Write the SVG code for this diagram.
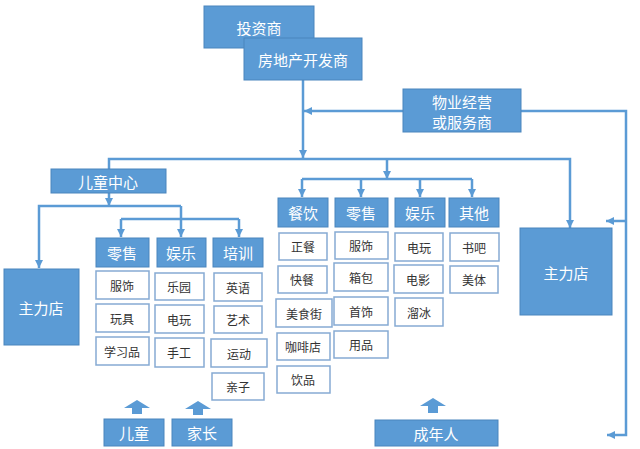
<svg xmlns="http://www.w3.org/2000/svg" width="640" height="449" viewBox="0 0 640 449">
<style>
.b{fill:#5b9bd5;stroke:#4a85bd;stroke-width:1}
.w{fill:#fff;stroke:#86aad3;stroke-width:1.5}
.t{font-family:"Noto Sans CJK SC","Noto Sans",sans-serif;fill:#fff;text-anchor:middle;dominant-baseline:central}
.s{font-family:"Noto Sans CJK SC","Noto Sans",sans-serif;fill:#333;font-size:12px;text-anchor:middle;dominant-baseline:central}
.c{fill:none;stroke:#5b9bd5;stroke-width:2.5}
.ba{fill:#5b9bd5}
</style>
<defs>
<marker id="a" markerUnits="userSpaceOnUse" markerWidth="10" markerHeight="10" viewBox="0 0 10 10" refX="9" refY="5" orient="auto">
<path d="M1,1 L9,5 L1,9 Z" fill="#5b9bd5"/>
</marker>
</defs>
<rect width="640" height="449" fill="#fff"/>
<g id="connectors">
<path class="c" d="M303 80 V158" marker-end="url(#a)"/>
<path class="c" d="M109 169 V159 H570 V228" marker-end="url(#a)"/>
<path class="c" d="M403 111 H304" marker-end="url(#a)"/>
<path class="c" d="M521 111 H626 V435 H607" marker-end="url(#a)"/>
<path class="c" d="M626 221 H606" marker-end="url(#a)"/>
<path class="c" d="M109 193 V206" marker-end="url(#a)"/>
<path class="c" d="M181 206 H39 V268" marker-end="url(#a)"/>
<path class="c" d="M181 206 V237" marker-end="url(#a)"/>
<path class="c" d="M121 219 H239"/>
<path class="c" d="M121 219 V237" marker-end="url(#a)"/>
<path class="c" d="M239 219 V237" marker-end="url(#a)"/>
<path class="c" d="M387 159 V179" marker-end="url(#a)"/>
<path class="c" d="M302 179 H472"/>
<path class="c" d="M302 179 V197" marker-end="url(#a)"/>
<path class="c" d="M361 179 V197" marker-end="url(#a)"/>
<path class="c" d="M420 179 V197" marker-end="url(#a)"/>
<path class="c" d="M472 179 V197" marker-end="url(#a)"/>
<polygon class="ba" points="137,400 150,408 142,408 142,414 132,414 132,408 124,408"/>
<polygon class="ba" points="198,401 211,409 203,409 203,415 193,415 193,409 185,409"/>
<polygon class="ba" points="433,398 446,406 438,406 438,413 428,413 428,406 420,406"/>
</g>
<g id="investor"><rect class="b" x="204" y="6" width="110" height="42"/><text class="t" x="259" y="27" font-size="15">投资商</text></g>
<g id="developer"><rect class="b" x="244" y="38" width="118" height="42"/><text class="t" x="303" y="59" font-size="15">房地产开发商</text></g>
<g id="operator"><rect class="b" x="403" y="89" width="118" height="43"/><text class="t" x="462" y="101" font-size="15">物业经营</text><text class="t" x="462" y="121" font-size="15">或服务商</text></g>
<g id="kids-center"><rect class="b" x="51" y="169" width="115" height="24"/><text class="t" x="108" y="181" font-size="15">儿童中心</text></g>
<g id="anchor-left"><rect class="b" x="4" y="269" width="75" height="76"/><text class="t" x="41" y="307" font-size="15">主力店</text></g>
<g id="anchor-right"><rect class="b" x="520" y="228" width="92" height="87"/><text class="t" x="566" y="272" font-size="15">主力店</text></g>
<g id="k-retail"><rect class="b" x="96" y="238" width="53" height="29"/><text class="t" x="122" y="252" font-size="15">零售</text></g>
<g id="k-ent"><rect class="b" x="157" y="238" width="49" height="29"/><text class="t" x="181" y="252" font-size="15">娱乐</text></g>
<g id="k-train"><rect class="b" x="213" y="238" width="50" height="29"/><text class="t" x="238" y="252" font-size="15">培训</text></g>
<g id="k1"><rect class="w" x="96" y="271" width="53" height="28"/><text class="s" x="122" y="285">服饰</text></g>
<g id="k2"><rect class="w" x="96" y="304" width="53" height="28"/><text class="s" x="122" y="318">玩具</text></g>
<g id="k3"><rect class="w" x="96" y="337" width="53" height="28"/><text class="s" x="122" y="351">学习品</text></g>
<g id="k4"><rect class="w" x="155" y="273" width="49" height="27"/><text class="s" x="179" y="286">乐园</text></g>
<g id="k5"><rect class="w" x="155" y="305" width="49" height="28"/><text class="s" x="179" y="319">电玩</text></g>
<g id="k6"><rect class="w" x="155" y="338" width="49" height="29"/><text class="s" x="179" y="352">手工</text></g>
<g id="k7"><rect class="w" x="214" y="273" width="48" height="28"/><text class="s" x="238" y="287">英语</text></g>
<g id="k8"><rect class="w" x="214" y="306" width="48" height="27"/><text class="s" x="238" y="319">艺术</text></g>
<g id="k9"><rect class="w" x="211" y="339" width="56" height="28"/><text class="s" x="239" y="353">运动</text></g>
<g id="k10"><rect class="w" x="212" y="373" width="52" height="27"/><text class="s" x="238" y="386">亲子</text></g>
<g id="m-food"><rect class="b" x="278" y="198" width="50" height="29"/><text class="t" x="303" y="212" font-size="15">餐饮</text></g>
<g id="m-retail"><rect class="b" x="335" y="198" width="53" height="29"/><text class="t" x="361" y="212" font-size="15">零售</text></g>
<g id="m-ent"><rect class="b" x="395" y="198" width="50" height="29"/><text class="t" x="420" y="212" font-size="15">娱乐</text></g>
<g id="m-other"><rect class="b" x="449" y="198" width="50" height="29"/><text class="t" x="474" y="212" font-size="15">其他</text></g>
<g id="f1"><rect class="w" x="279" y="233" width="48" height="27"/><text class="s" x="303" y="246">正餐</text></g>
<g id="f2"><rect class="w" x="278" y="266" width="49" height="27"/><text class="s" x="302" y="279">快餐</text></g>
<g id="f3"><rect class="w" x="276" y="299" width="56" height="28"/><text class="s" x="304" y="313">美食街</text></g>
<g id="f4"><rect class="w" x="277" y="333" width="53" height="27"/><text class="s" x="303" y="346">咖啡店</text></g>
<g id="f5"><rect class="w" x="277" y="366" width="53" height="27"/><text class="s" x="303" y="379">饮品</text></g>
<g id="r1"><rect class="w" x="335" y="232" width="53" height="27"/><text class="s" x="361" y="245">服饰</text></g>
<g id="r2"><rect class="w" x="334" y="263" width="54" height="28"/><text class="s" x="361" y="277">箱包</text></g>
<g id="r3"><rect class="w" x="334" y="297" width="54" height="28"/><text class="s" x="361" y="311">首饰</text></g>
<g id="r4"><rect class="w" x="334" y="331" width="54" height="27"/><text class="s" x="361" y="344">用品</text></g>
<g id="e1"><rect class="w" x="395" y="233" width="48" height="28"/><text class="s" x="419" y="247">电玩</text></g>
<g id="e2"><rect class="w" x="394" y="265" width="49" height="28"/><text class="s" x="418" y="279">电影</text></g>
<g id="e3"><rect class="w" x="395" y="298" width="48" height="28"/><text class="s" x="419" y="312">溜冰</text></g>
<g id="o1"><rect class="w" x="450" y="233" width="49" height="28"/><text class="s" x="474" y="247">书吧</text></g>
<g id="o2"><rect class="w" x="450" y="266" width="48" height="27"/><text class="s" x="474" y="279">美体</text></g>
<g id="child"><rect class="b" x="104" y="419" width="60" height="27"/><text class="t" x="134" y="432" font-size="15">儿童</text></g>
<g id="parent"><rect class="b" x="172" y="419" width="60" height="27"/><text class="t" x="202" y="432" font-size="15">家长</text></g>
<g id="adult"><rect class="b" x="375" y="420" width="123" height="26"/><text class="t" x="436" y="433" font-size="15">成年人</text></g>
</svg>
